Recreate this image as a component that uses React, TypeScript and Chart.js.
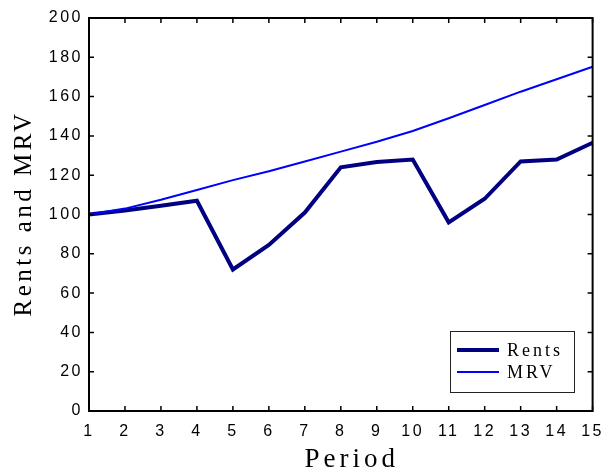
import React, { useEffect, useRef } from "react";
import { Chart, registerables } from "chart.js";

Chart.register(...registerables);

const periods = ["1", "2", "3", "4", "5", "6", "7", "8", "9", "10", "11", "12", "13", "14", "15"];
const rents = [100, 102, 104.5, 107, 72, 84.5, 101, 124, 126.7, 128, 96, 108, 127, 128, 136.5];
const mrv = [100, 103, 107.5, 112.5, 117.5, 122, 127, 132, 137, 142.5, 149, 155.7, 162.5, 168.8, 175.2];
const yTitle = "Rents and MRV";
const xTitle = "Period";

const framePlugin = {
  id: "frame",
  beforeUpdate(chart: any) {
    chart.ctx.letterSpacing = "2.5px";
  },
  beforeDraw(chart: any) {
    chart.ctx.letterSpacing = "2.5px";
  },
  afterDraw(chart: any) {
    const ctx = chart.ctx;
    const { left, right, top, bottom } = chart.chartArea;
    const xs = chart.scales.x;
    const ys = chart.scales.y;
    ctx.save();
    ctx.letterSpacing = "0px";
    ctx.strokeStyle = "#000";
    ctx.lineWidth = 2;
    ctx.strokeRect(left, top, right - left, bottom - top);
    ctx.lineWidth = 1.5;
    ctx.beginPath();
    ys.ticks.forEach((t: any) => {
      const y = ys.getPixelForValue(t.value);
      ctx.moveTo(left, y);
      ctx.lineTo(left + 5, y);
      ctx.moveTo(right, y);
      ctx.lineTo(right - 5, y);
    });
    xs.ticks.forEach((t: any, i: number) => {
      const x = xs.getPixelForTick(i);
      ctx.moveTo(x, bottom);
      ctx.lineTo(x, bottom - 5);
      ctx.moveTo(x, top);
      ctx.lineTo(x, top + 5);
    });
    ctx.stroke();

    // axis titles
    ctx.fillStyle = "#000";
    ctx.textAlign = "center";
    ctx.textBaseline = "middle";
    ctx.font = "27px 'Liberation Serif'";
    ctx.letterSpacing = "4px";
    ctx.fillText(xTitle, (left + right) / 2 + 11, 460);
    ctx.font = "25px 'Liberation Serif'";
    ctx.letterSpacing = "3.5px";
    ctx.save();
    ctx.translate(24, (top + bottom) / 2 - 1);
    ctx.rotate(-Math.PI / 2);
    ctx.fillText(yTitle, 0, 0);
    ctx.restore();

    // legend
    const bx = 450, by = 331, bw = 124, bh = 61;
    ctx.fillStyle = "#fff";
    ctx.fillRect(bx, by, bw, bh);
    ctx.strokeStyle = "#222";
    ctx.lineWidth = 1;
    ctx.strokeRect(bx + 0.5, by + 0.5, bw, bh);
    ctx.font = "18px 'Liberation Serif'";
    ctx.letterSpacing = "3px";
    ctx.textAlign = "left";
    const rowsY = [350, 372];
    chart.data.datasets.forEach((ds: any, i: number) => {
      const y = rowsY[i];
      ctx.strokeStyle = ds.borderColor;
      ctx.lineWidth = ds.borderWidth;
      ctx.beginPath();
      ctx.moveTo(457, y);
      ctx.lineTo(499, y);
      ctx.stroke();
      ctx.fillStyle = "#000";
      ctx.fillText(ds.label, 507, y + 1);
    });
    ctx.restore();
  },
};

export default function App() {
  const ref = useRef<HTMLCanvasElement | null>(null);
  useEffect(() => {
    if (!ref.current) return;
    const chart = new Chart(ref.current, {
      type: "line",
      data: {
        labels: periods,
        datasets: [
          { label: "Rents", data: rents, borderColor: "#000080", backgroundColor: "#000080", borderWidth: 4, pointRadius: 0, tension: 0, order: 2 },
          { label: "MRV", data: mrv, borderColor: "#0000ff", backgroundColor: "#0000ff", borderWidth: 2, pointRadius: 0, tension: 0, order: 1 },
        ],
      },
      options: {
        responsive: false,
        animation: false,
        layout: { padding: { top: 18, right: 12, left: 0, bottom: 0 } },
        plugins: { legend: { display: false }, tooltip: { enabled: false } },
        scales: {
          x: {
            type: "category",
            offset: false,
            grid: { display: false },
            border: { display: false },
            ticks: { color: "#000", font: { family: "'Liberation Sans'", size: 16 }, padding: 3, maxRotation: 0, autoSkip: false },
            afterFit: (s: any) => { s.height = 64; },
          },
          y: {
            min: 0,
            max: 200,
            grid: { display: false },
            border: { display: false },
            ticks: { stepSize: 20, color: "#000", font: { family: "'Liberation Sans'", size: 16 }, padding: -2 },
            afterFit: (s: any) => { s.width = 89; },
          },
        },
      },
      plugins: [framePlugin],
    });
    return () => chart.destroy();
  }, []);
  return (
    <div style={{ position: "absolute", left: 0, top: 0, width: 607, height: 475, background: "#fff" }}>
      <canvas ref={ref} width={607} height={475} />
    </div>
  );
}
